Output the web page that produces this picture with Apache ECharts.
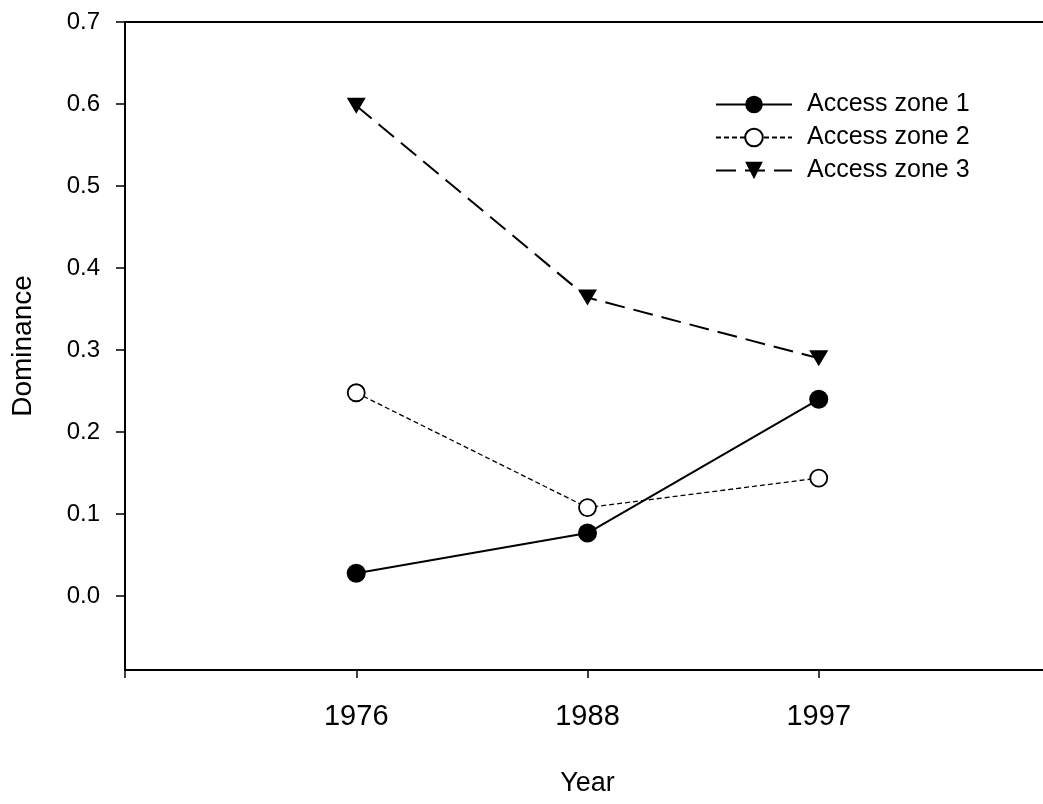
<!DOCTYPE html>
<html>
<head>
<meta charset="utf-8">
<script src="https://cdn.jsdelivr.net/npm/echarts@6/dist/echarts.min.js"></script>
<style>
  html, body { margin: 0; padding: 0; background: #fff; }
  #chart { width: 1043px; height: 804px; }
</style>
</head>
<body>
<div id="chart"></div>
<script>
// Survey years (placed at positions 1, 2, 3 on the x scale)
const years = ['1976', '1988', '1997'];
const yTicks = [0, 0.1, 0.2, 0.3, 0.4, 0.5, 0.6, 0.7];

// Dominance per access zone
const zone1 = [0.028, 0.077, 0.240];
const zone2 = [0.248, 0.108, 0.144];
const zone3 = [0.598, 0.364, 0.290];

const seriesNames = ['Access zone 1', 'Access zone 2', 'Access zone 3'];

const toPoints = vals => vals.map((v, i) => [i + 1, v]);
const font = 'Liberation Sans, Arial, sans-serif';

const chart = echarts.init(document.getElementById('chart'), null, { renderer: 'canvas' });

chart.setOption({
  backgroundColor: '#fff',
  animation: false,
  textStyle: { fontFamily: font, color: '#000' },
  grid: {
    left: 125, top: 22, width: 925, height: 648,
    containLabel: false,
    outerBoundsMode: 'none'
  },
  legend: {
    orient: 'vertical',
    left: 710,
    top: 87,
    itemWidth: 76,
    itemHeight: 22,
    itemGap: 8,
    textStyle: { fontFamily: font, fontSize: 25, color: '#000', padding: [0, 0, 0, 10] },
    data: seriesNames
  },
  xAxis: {
    type: 'value',
    min: 0,
    max: 4,
    interval: 1,
    name: 'Year',
    nameLocation: 'middle',
    nameGap: 100,
    nameTextStyle: { fontFamily: font, fontSize: 27, color: '#000' },
    axisLine: { show: true, onZero: false, lineStyle: { color: '#000', width: 2 } },
    axisTick: { show: true, inside: false, length: 8, lineStyle: { color: '#000', width: 1.5 } },
    axisLabel: {
      fontFamily: font, fontSize: 29, color: '#000', margin: 32,
      formatter: v => (v >= 1 && v <= years.length ? years[v - 1] : '')
    },
    splitLine: { show: false }
  },
  yAxis: {
    type: 'value',
    min: -0.09,
    max: 0.7,
    name: 'Dominance',
    nameLocation: 'middle',
    nameGap: 88,
    nameRotate: 90,
    nameTextStyle: { fontFamily: font, fontSize: 28, color: '#000' },
    axisLine: { show: true, onZero: false, lineStyle: { color: '#000', width: 2 } },
    axisTick: { show: true, inside: false, length: 9, customValues: yTicks, lineStyle: { color: '#000', width: 1.5 } },
    axisLabel: {
      fontFamily: font, fontSize: 24, color: '#000', margin: 25,
      customValues: yTicks,
      formatter: v => v.toFixed(1)
    },
    splitLine: { show: false }
  },
  series: [
    {
      name: seriesNames[0],
      type: 'line',
      data: toPoints(zone1),
      symbol: 'circle',
      symbolSize: 19,
      itemStyle: { color: '#000' },
      lineStyle: { color: '#000', width: 2, type: 'solid' }
    },
    {
      name: seriesNames[1],
      type: 'line',
      data: toPoints(zone2),
      symbol: 'circle',
      symbolSize: 17,
      itemStyle: { color: '#fff', borderColor: '#000', borderWidth: 1.8 },
      lineStyle: { color: '#000', width: 1.3, type: [5, 3] }
    },
    {
      name: seriesNames[2],
      type: 'line',
      data: toPoints(zone3),
      symbol: 'triangle',
      symbolRotate: 180,
      symbolSize: [19, 16],
      itemStyle: { color: '#000' },
      lineStyle: { color: '#000', width: 2, type: [20, 9] }
    },
    {
      // top frame line
      type: 'line',
      data: [[0, 0.7], [4, 0.7]],
      symbol: 'none',
      silent: true,
      lineStyle: { color: '#000', width: 2 },
      z: 1
    }
  ]
});
</script>
</body>
</html>
